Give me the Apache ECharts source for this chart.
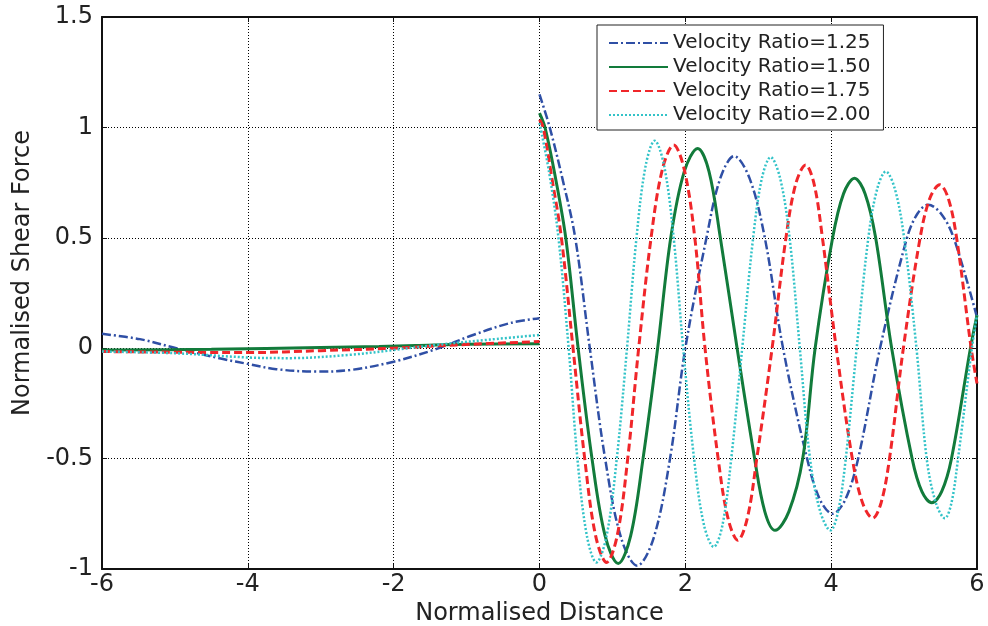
<!DOCTYPE html>
<html>
<head>
<meta charset="utf-8">
<script src="https://cdn.jsdelivr.net/npm/echarts@6/dist/echarts.min.js"></script>
<style>
html,body{margin:0;padding:0;background:#fff;}
#chart{width:988px;height:626px;}
</style>
</head>
<body>
<div id="chart"></div>
<script>
// ---- data ----
const seriesNames = ['Velocity Ratio=1.25', 'Velocity Ratio=1.50', 'Velocity Ratio=1.75', 'Velocity Ratio=2.00'];
const xTicks = [-6, -4, -2, 0, 2, 4, 6];
const yTicks = [-1, -0.5, 0, 0.5, 1, 1.5];

// [distance, shear force]; a null value marks the break at x = 0
const ratio125 = [[-6,0.065],[-5.48,0.041],[-4.98,0],[-4.34,-0.049],[-4.0,-0.071],[-3.61,-0.095],[-3.06,-0.106],[-2.6,-0.099],[-2.0,-0.061],[-1.41,-0.003],[-0.91,0.06],[-0.4,0.114],[0,0.136],
  [0,null],
  [0,1.15],[0.14,1.0],[0.32,0.76],[0.49,0.5],[0.69,0],[0.90,-0.5],[1.12,-0.86],[1.34,-0.985],[1.565,-0.86],[1.79,-0.5],[2.0,0],[2.29,0.5],[2.48,0.77],[2.67,0.87],[2.88,0.77],[3.09,0.5],[3.34,0],[3.67,-0.5],[3.845,-0.685],[4.02,-0.75],[4.195,-0.685],[4.37,-0.5],[4.67,0],[5.04,0.5],[5.185,0.61],[5.33,0.65],[5.505,0.61],[5.68,0.5],[6.0,0.14]];
const ratio150 = [[-6,-0.008],[-4.5,-0.005],[-3,0.003],[-2.2,0.008],[-1.7,0.012],[-1.0,0.018],[0,0.02],
  [0,null],
  [0,1.065],[0.075,1.0],[0.22,0.77],[0.36,0.5],[0.53,0],[0.72,-0.5],[0.90,-0.85],[1.08,-0.975],[1.25,-0.85],[1.42,-0.5],[1.62,0],[1.80,0.5],[1.985,0.80],[2.17,0.905],[2.325,0.80],[2.48,0.5],[2.71,0],[2.95,-0.5],[3.09,-0.74],[3.23,-0.825],[3.42,-0.74],[3.61,-0.5],[3.78,0],[4.02,0.5],[4.17,0.70],[4.32,0.77],[4.465,0.70],[4.61,0.5],[4.83,0],[5.11,-0.5],[5.245,-0.65],[5.38,-0.70],[5.515,-0.65],[5.65,-0.5],[5.91,0],[6.0,0.15]];
const ratio175 = [[-6,-0.015],[-4,-0.02],[-3,-0.011],[-2,0],[-1.14,0.015],[0,0.03],
  [0,null],
  [0,1.035],[0.05,1.0],[0.17,0.77],[0.30,0.5],[0.46,0],[0.62,-0.5],[0.77,-0.85],[0.92,-0.97],[1.065,-0.85],[1.21,-0.5],[1.36,0],[1.53,0.5],[1.685,0.81],[1.84,0.92],[1.985,0.81],[2.13,0.5],[2.27,0],[2.45,-0.5],[2.585,-0.77],[2.72,-0.87],[2.85,-0.77],[2.98,-0.5],[3.19,0],[3.38,0.5],[3.515,0.745],[3.65,0.83],[3.765,0.745],[3.88,0.5],[4.07,0],[4.29,-0.5],[4.43,-0.70],[4.57,-0.77],[4.685,-0.70],[4.80,-0.5],[4.99,0],[5.22,0.5],[5.355,0.68],[5.49,0.74],[5.605,0.68],[5.72,0.5],[5.92,0],[6.0,-0.16]];
const ratio200 = [[-6,-0.015],[-4.98,-0.023],[-4,-0.042],[-3.42,-0.045],[-2.6,-0.03],[-2,-0.008],[-1.41,0.015],[-0.68,0.039],[0,0.06],
  [0,null],
  [0,1.02],[0.13,0.80],[0.26,0.5],[0.40,0],[0.52,-0.5],[0.65,-0.85],[0.78,-0.97],[0.92,-0.85],[1.06,-0.5],[1.20,0],[1.33,0.5],[1.455,0.825],[1.58,0.94],[1.71,0.825],[1.84,0.5],[1.97,0],[2.12,-0.5],[2.255,-0.80],[2.39,-0.90],[2.51,-0.80],[2.63,-0.5],[2.78,0],[2.93,0.5],[3.05,0.77],[3.17,0.865],[3.30,0.77],[3.43,0.5],[3.57,0],[3.71,-0.5],[3.85,-0.74],[3.99,-0.825],[4.095,-0.74],[4.20,-0.5],[4.35,0],[4.51,0.5],[4.63,0.72],[4.75,0.80],[4.875,0.72],[5.00,0.5],[5.17,0],[5.31,-0.5],[5.435,-0.70],[5.56,-0.77],[5.65,-0.70],[5.74,-0.5],[5.93,0],[6.0,0.15]];

const allData = [ratio125, ratio150, ratio175, ratio200];
const colors = ['#2f4fa5', '#127b3b', '#f0262a', '#33c3c8'];
const dashes = [[9,3,2,3], 'solid', [8,4], [2,2]];
const widths = [2.5, 3, 3, 2.5];

const FONT = 'DejaVu Sans';
const chart = echarts.init(document.getElementById('chart'), null, {renderer: 'canvas'});

const series = allData.map((d, i) => ({
  name: seriesNames[i],
  type: 'line',
  data: d,
  xAxisIndex: 0,
  yAxisIndex: 0,
  smooth: 0.35,
  symbol: 'none',
  showSymbol: false,
  connectNulls: false,
  animation: false,
  lineStyle: {color: colors[i], width: widths[i], type: dashes[i]},
  itemStyle: {color: colors[i]}
}));

const gridLine = {show: true, lineStyle: {color: '#000', width: 1, type: [1, 2]}};

chart.setOption({
  animation: false,
  backgroundColor: '#fff',
  grid: {left: 102, right: 11, top: 17, bottom: 57, containLabel: false, outerBoundsMode: 'none'},
  legend: {
    data: seriesNames,
    orient: 'vertical',
    left: 597,
    top: 25,
    itemWidth: 59,
    itemHeight: 14,
    itemGap: 4,
    padding: [8, 13, 5, 11],
    backgroundColor: '#fff',
    borderColor: '#222',
    borderWidth: 1,
    borderRadius: 0,
    itemStyle: {opacity: 0},
    textStyle: {fontFamily: FONT, fontSize: 20, color: '#222', lineHeight: 20}
  },
  xAxis: [{
    type: 'value', min: -6, max: 6, interval: 2, position: 'bottom',
    name: 'Normalised Distance', nameLocation: 'middle', nameGap: 28,
    nameTextStyle: {fontFamily: FONT, fontSize: 24, color: '#222'},
    axisLine: {show: true, onZero: false, lineStyle: {color: '#111', width: 2}},
    axisTick: {show: true, inside: true, length: 5, lineStyle: {color: '#111'}},
    axisLabel: {fontFamily: FONT, fontSize: 24, color: '#222', margin: 4},
    splitLine: gridLine
  }, {
    type: 'value', min: -6, max: 6, interval: 2, position: 'top',
    axisLine: {show: true, onZero: false, lineStyle: {color: '#111', width: 2}},
    axisTick: {show: true, inside: true, length: 5, lineStyle: {color: '#111'}},
    axisLabel: {show: false},
    splitLine: {show: false}
  }],
  yAxis: [{
    type: 'value', min: -1, max: 1.5, interval: 0.5, position: 'left',
    axisLine: {show: true, onZero: false, lineStyle: {color: '#111', width: 2}},
    axisTick: {show: true, inside: true, length: 5, lineStyle: {color: '#111'}},
    axisLabel: {fontFamily: FONT, fontSize: 24, color: '#222', margin: 9},
    splitLine: gridLine
  }, {
    type: 'value', min: -1, max: 1.5, interval: 0.5, position: 'right',
    axisLine: {show: true, onZero: false, lineStyle: {color: '#111', width: 2}},
    axisTick: {show: true, inside: true, length: 5, lineStyle: {color: '#111'}},
    axisLabel: {show: false},
    splitLine: {show: false}
  }],
  graphic: [{
    type: 'text',
    left: 11, top: 130,
    rotation: Math.PI / 2,
    style: {text: 'Normalised Shear Force', fontFamily: FONT, fontSize: 24, fill: '#222'}
  }],
  series: series
});
</script>
</body>
</html>
